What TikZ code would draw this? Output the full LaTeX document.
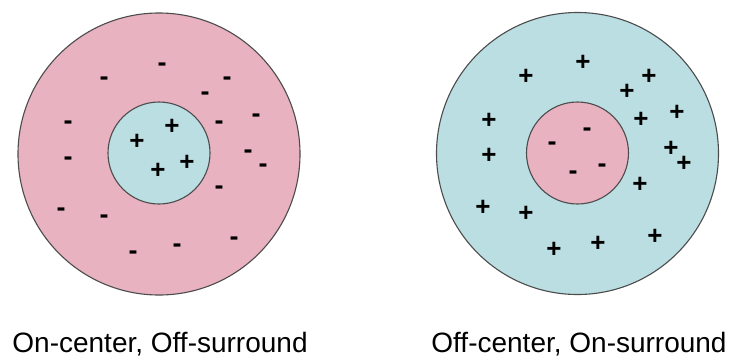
\documentclass[tikz,border=0pt]{standalone}
\usepackage{fontspec}
\setmainfont{Liberation Sans}
\definecolor{surroundpink}{RGB}{232,178,192}
\definecolor{centerblue}{RGB}{187,222,226}

\begin{document}
\begin{tikzpicture}[x=1pt, y=-1pt,
  ring/.style={draw=black!70, line width=1.1pt},
  plussign/.style={font=\fontsize{26}{26}\selectfont\bfseries, inner sep=0pt},
  minussign/.style={font=\fontsize{27}{27}\selectfont\bfseries, inner sep=0pt, yshift=-2pt},
  caption/.style={font=\fontsize{28}{28}\selectfont, anchor=base}]
 \useasboundingbox (0,0) rectangle (733,360);

 % On-center, off-surround field
 \draw[ring, fill=surroundpink] (159,154) circle (141);
 \draw[ring, fill=centerblue] (159,153) circle (51);
 \foreach \x/\y [count=\i] in {162/65, 104/79, 227/79, 205/94, 68/123, 219/123, 256/116,
   68/159, 248/152, 263/166, 219/188, 61/210, 104/217, 234/239, 177/246, 133/253}
  \node[minussign] (lm\i) at (\x,\y) {-};
 \foreach \x/\y [count=\i] in {137/142, 172/127, 187/163, 158/171}
  \node[plussign] (lp\i) at (\x,\y) {+};
 \node[caption] (lcap) at (160,352) {On-center, Off-surround};

 % Off-center, on-surround field
 \draw[ring, fill=centerblue] (577.5,153.5) circle (141);
 \draw[ring, fill=surroundpink] (577.5,153) circle (51);
 \foreach \x/\y [count=\i] in {583/63, 526/77, 649/77, 627/92, 489/121, 641/120, 677/113,
   489/156, 671/149, 684/164, 640/185, 483/208, 526/214, 655/237, 598/244, 554/250}
  \node[plussign] (rp\i) at (\x,\y) {+};
 \foreach \x/\y [count=\i] in {552/144, 587/130, 602/166, 573/173}
  \node[minussign] (rm\i) at (\x,\y) {-};
 \node[caption] (rcap) at (579,352) {Off-center, On-surround};
\end{tikzpicture}
\end{document}
